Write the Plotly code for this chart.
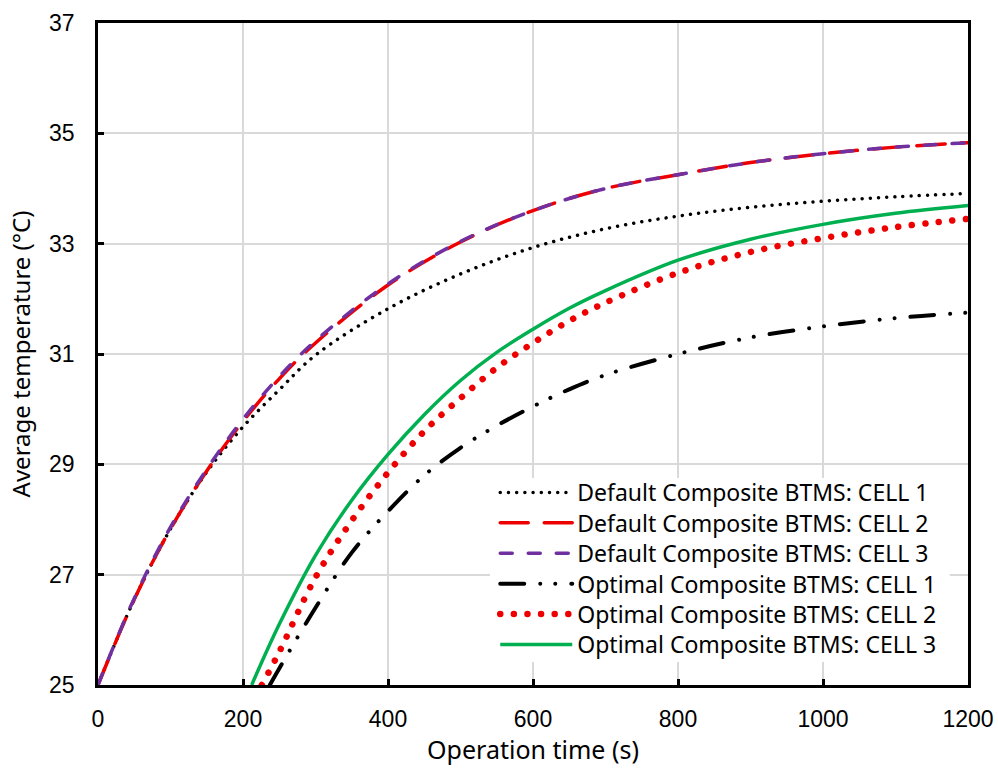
import plotly.graph_objects as go

# ---- data ----
t_default = [0, 50, 100, 150, 200, 250, 300, 400, 500, 600, 700, 800, 900, 1000, 1100, 1200]
default_cell1 = [25, 26.55, 27.83, 28.86, 29.68, 30.35, 30.98, 31.82, 32.45, 32.93, 33.27, 33.50, 33.66, 33.77, 33.85, 33.91]
default_cell2 = [25, 26.55, 27.83, 28.88, 29.78, 30.55, 31.20, 32.25, 33.03, 33.60, 34.00, 34.25, 34.47, 34.63, 34.75, 34.83]
default_cell3 = [25, 26.57, 27.86, 28.91, 29.82, 30.59, 31.24, 32.27, 33.04, 33.60, 34.00, 34.25, 34.47, 34.63, 34.75, 34.83]

t_opt1 = [237, 250, 300, 350, 400, 450, 500, 550, 600, 650, 700, 800, 900, 1000, 1100, 1200]
optimal_cell1 = [25, 25.3, 26.4, 27.4, 28.15, 28.8, 29.3, 29.7, 30.05, 30.36, 30.62, 31.0, 31.3, 31.5, 31.65, 31.75]
t_opt2 = [226, 250, 300, 350, 400, 450, 500, 550, 600, 650, 700, 800, 900, 1000, 1100, 1200]
optimal_cell2 = [25, 25.6, 26.95, 27.98, 28.85, 29.6, 30.2, 30.75, 31.2, 31.6, 31.93, 32.47, 32.85, 33.1, 33.3, 33.45]
t_opt3 = [212, 250, 300, 350, 400, 450, 500, 550, 600, 650, 700, 800, 900, 1000, 1100, 1200]
optimal_cell3 = [25, 26.1, 27.35, 28.35, 29.18, 29.9, 30.52, 31.03, 31.45, 31.83, 32.15, 32.7, 33.08, 33.35, 33.55, 33.69]

names = [
    "Default Composite BTMS: CELL 1",
    "Default Composite BTMS: CELL 2",
    "Default Composite BTMS: CELL 3",
    "Optimal Composite BTMS: CELL 1",
    "Optimal Composite BTMS: CELL 2",
    "Optimal Composite BTMS: CELL 3",
]

x_ticks = [0, 200, 400, 600, 800, 1000, 1200]
y_ticks = [25, 27, 29, 31, 33, 35, 37]

TICK_FONT = "Liberation Sans"
TEXT_FONT = "Noto Sans"

fig = go.Figure()
series = [
    (t_default, default_cell1, dict(color="#000000", width=3.5, dash="0.01px,8.2px")),
    (t_default, default_cell2, dict(color="#EE0000", width=3.5, dash="28px,16px")),
    (t_default, default_cell3, dict(color="#7030A0", width=3.5, dash="12px,16px")),
    (t_opt1, optimal_cell1, dict(color="#000000", width=4, dash="24px,16px,0.01px,15px,0.01px,16px")),
    (t_opt2, optimal_cell2, dict(color="#EE0000", width=6.5, dash="0.01px,13.6px")),
    (t_opt3, optimal_cell3, dict(color="#00B050", width=3.5)),
]
legend_ids = ["legend", "legend2", "legend3", "legend4", "legend5", "legend6"]
for (xs, ys, ln), nm, lg in zip(series, names, legend_ids):
    fig.add_trace(go.Scatter(x=xs, y=ys, mode="lines", name=nm, legend=lg,
                             line=dict(shape="spline", smoothing=1.0, **ln)))

# one legend box per entry so the row pitch matches the reference
row_y = [0.2908, 0.2449, 0.1990, 0.1530, 0.1071, 0.0612]
legend_layout = {}
for lg, yy in zip(legend_ids, row_y):
    legend_layout[lg] = dict(
        x=0.4566, xanchor="left", y=yy, yanchor="middle",
        bgcolor="rgba(0,0,0,0)", borderwidth=0,
        font=dict(family=TEXT_FONT, size=23), itemwidth=72,
    )

fig.update_layout(
    width=998, height=772,
    margin=dict(l=98, r=30, t=23, b=87, autoexpand=False),
    paper_bgcolor="white", plot_bgcolor="white",
    font=dict(family=TICK_FONT, size=23, color="#000000"),
    showlegend=True,
    # white backing panel behind the legend entries (hides grid lines)
    shapes=[dict(type="rect", xref="paper", yref="paper",
                 x0=0.4506, x1=0.979, y0=0.0347, y1=0.3127,
                 fillcolor="white", line=dict(width=0), layer="above")],
    **legend_layout,
)
fig.update_xaxes(
    range=[0, 1200], tickvals=x_ticks, ticktext=[str(v) for v in x_ticks],
    showgrid=True, gridcolor="#D9D9D9", gridwidth=2,
    showline=True, linecolor="black", linewidth=2.5, mirror=True,
    ticks="inside", ticklen=6, tickwidth=2.5, tickcolor="black",
    ticklabelstandoff=12, zeroline=False, automargin=False,
    title=dict(text="Operation time (s)", font=dict(family=TEXT_FONT, size=25), standoff=10),
)
fig.update_yaxes(
    range=[25, 37], tickvals=y_ticks, ticktext=[str(v) for v in y_ticks],
    showgrid=True, gridcolor="#D9D9D9", gridwidth=2,
    showline=True, linecolor="black", linewidth=2.5, mirror=True,
    ticks="inside", ticklen=6, tickwidth=2.5, tickcolor="black",
    ticklabelstandoff=16, zeroline=False, automargin=False,
    title=dict(text="Average temperature (°C)", font=dict(family=TEXT_FONT, size=24), standoff=12),
)

post = """
document.body.style.margin = '0';
document.body.style.overflow = 'hidden';
document.querySelectorAll('path').forEach(function(p){
  var d = p.style.strokeDasharray || '';
  if (d && d !== 'none') { p.style.strokeLinecap = 'round'; }
});
"""
fig.write_html("out.html", post_script=post, config={"displayModeBar": False})
